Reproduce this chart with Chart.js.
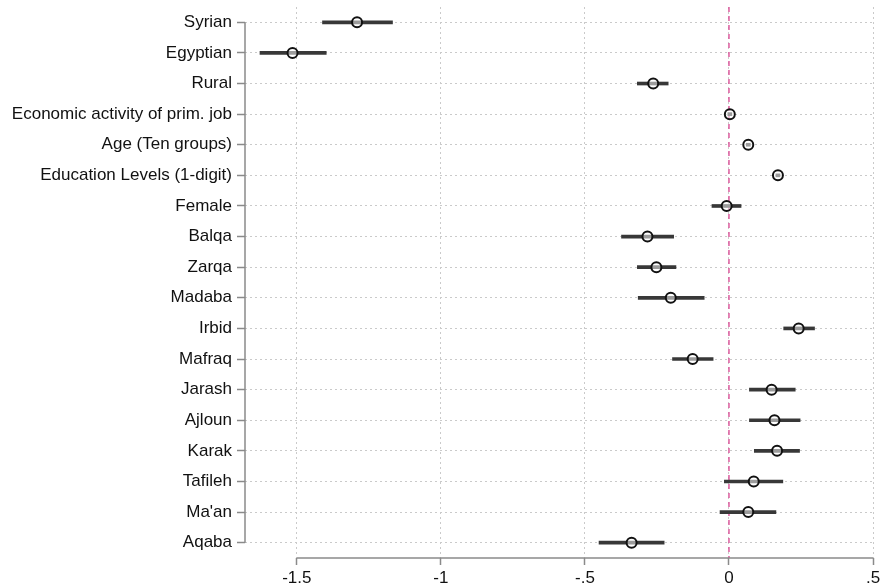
<!DOCTYPE html>
<html>
<head>
<meta charset="utf-8">
<script src="https://cdn.jsdelivr.net/npm/chart.js@4/dist/chart.umd.min.js"></script>
<style>
  html, body { margin: 0; padding: 0; background: #fff; }
  #wrap { width: 881px; height: 588px; }
</style>
</head>
<body>
<div id="wrap"><canvas id="coefChart"></canvas></div>
<script>
// ====== data ====== //
const categories = ['Syrian', 'Egyptian', 'Rural', 'Economic activity of prim. job', 'Age (Ten groups)',
    'Education Levels (1-digit)', 'Female', 'Balqa', 'Zarqa', 'Madaba', 'Irbid', 'Mafraq',
    'Jarash', 'Ajloun', 'Karak', 'Tafileh', "Ma'an", 'Aqaba'];
const coef  = [-1.291, -1.515, -0.263, 0.003, 0.067, 0.170, -0.008, -0.283, -0.252, -0.202, 0.242, -0.126,
    0.148, 0.158, 0.167, 0.086, 0.067, -0.338];
const ciLow = [-1.411, -1.628, -0.318, -0.004, 0.060, 0.163, -0.059, -0.373, -0.318, -0.315, 0.190, -0.196,
    0.071, 0.071, 0.088, -0.016, -0.031, -0.451];
const ciHigh = [-1.168, -1.398, -0.211, 0.010, 0.074, 0.177, 0.042, -0.192, -0.184, -0.086, 0.297, -0.055,
    0.230, 0.247, 0.245, 0.187, 0.163, -0.225];
const xTicks = [-1.5, -1, -0.5, 0, 0.5];
const xTickLabels = ['-1.5', '-1', '-.5', '0', '.5'];

const ciRanges = ciLow.map((lo, i) => [lo, ciHigh[i]]);

// ====== axis lines + reference line at 0 ====== //
const axisLines = {
    id: 'axisLines',
    beforeDatasetsDraw(chart) {
        const { ctx, chartArea, scales: { x, y } } = chart;
        ctx.save();
        // zero line
        const x0 = x.getPixelForValue(0);
        ctx.strokeStyle = '#dc5c9e';
        ctx.lineWidth = 1.5;
        ctx.setLineDash([5, 4]);
        ctx.beginPath();
        ctx.moveTo(x0, chartArea.top);
        ctx.lineTo(x0, chartArea.bottom);
        ctx.stroke();
        // axis lines, only from first to last tick
        ctx.setLineDash([]);
        ctx.strokeStyle = '#8a8a8a';
        ctx.lineWidth = 1.5;
        ctx.beginPath();
        ctx.moveTo(chartArea.left, y.getPixelForValue(0));
        ctx.lineTo(chartArea.left, y.getPixelForValue(categories.length - 1));
        ctx.moveTo(x.getPixelForValue(xTicks[0]), chartArea.bottom);
        ctx.lineTo(x.getPixelForValue(xTicks[xTicks.length - 1]), chartArea.bottom);
        ctx.stroke();
        ctx.restore();
    }
};

const ctx = document.getElementById('coefChart');

new Chart(ctx, {
    type: 'bar',
    data: {
        labels: categories,
        datasets: [{
            label: 'CI',
            data: ciRanges,
            backgroundColor: '#383838',
            barThickness: 3,
            borderWidth: 0,
            order: 2
        },
        {
            type: 'line',
            label: 'Coefficient',
            indexAxis: 'y',
            data: coef,
            showLine: false,
            pointStyle: 'circle',
            pointRadius: 5,
            pointBorderWidth: 2,
            pointBorderColor: '#111',
            pointBackgroundColor: 'rgba(255,255,255,0.5)',
            order: 1
        }]
    },
    plugins: [axisLines],
    options: {
        indexAxis: 'y',
        responsive: true,
        maintainAspectRatio: false,
        animation: false,
        layout: {
            padding: { top: 6, right: 8, left: 0, bottom: 0 }
        },
        scales: {
            x: {
                type: 'linear',
                min: -1.68,
                max: 0.5,
                afterBuildTicks: scale => {
                    scale.ticks = xTicks.map(v => ({ value: v }));
                },
                afterFit: scale => {
                    scale.height = 30;
                    scale.paddingLeft = 0;
                    scale.paddingRight = 0;
                },
                ticks: {
                    callback: v => xTickLabels[xTicks.indexOf(v)],
                    color: '#111',
                    font: { family: 'Liberation Sans', size: 17 },
                    padding: 3,
                    maxRotation: 0
                },
                grid: {
                    color: '#cacaca',
                    lineWidth: 1,
                    tickColor: '#8a8a8a',
                    tickWidth: 1.5,
                    tickLength: 7,
                    tickBorderDash: []
                },
                border: {
                    display: false,
                    dash: [2, 3]
                }
            },
            y: {
                type: 'category',
                offset: true,
                afterFit: scale => {
                    scale.width = 245;
                    scale.paddingTop = 0;
                    scale.paddingBottom = 0;
                },
                ticks: {
                    color: '#111',
                    font: { family: 'Liberation Sans', size: 17 },
                    padding: 5
                },
                grid: {
                    color: '#cacaca',
                    lineWidth: 1,
                    offset: false,
                    tickColor: '#8a8a8a',
                    tickWidth: 1.5,
                    tickLength: 8,
                    tickBorderDash: []
                },
                border: {
                    display: false,
                    dash: [2, 3]
                }
            }
        },
        plugins: {
            legend: { display: false },
            tooltip: { enabled: false }
        }
    }
});
</script>
</body>
</html>
